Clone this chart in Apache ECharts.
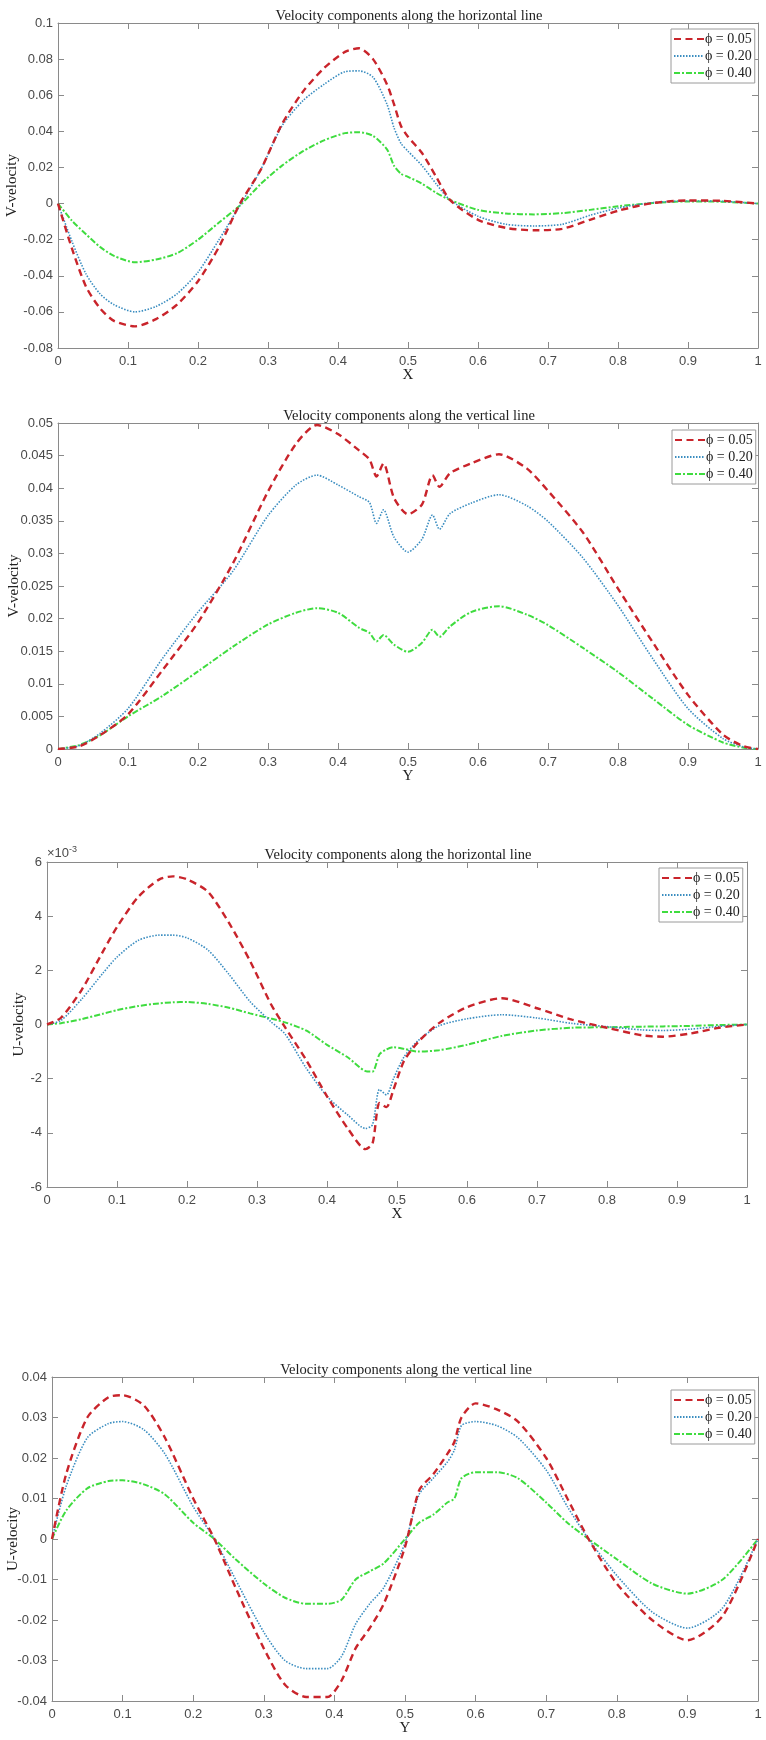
<!DOCTYPE html>
<html><head><meta charset="utf-8">
<script src="https://cdn.jsdelivr.net/npm/echarts@6/dist/echarts.min.js"></script>
<style>html,body{margin:0;padding:0;background:#fff}#c{width:766px;height:1740px}</style>
</head><body><div id="c"></div><script>
// ---------- DATA ----------
const seriesNames = ['ϕ = 0.05', 'ϕ = 0.20', 'ϕ = 0.40'];
const titles = ['Velocity components along the horizontal line', 'Velocity components along the vertical line',
  'Velocity components along the horizontal line', 'Velocity components along the vertical line'];
const xNames = ['X', 'Y', 'X', 'Y'];
const yNames = ['V-velocity', 'V-velocity', 'U-velocity', 'U-velocity'];

// Panel 1: V-velocity along horizontal line
const p1_x = [0,0.02,0.04,0.06,0.08,0.11,0.14,0.17,0.2,0.23,0.26,0.29,0.32,0.35,0.38,0.41,0.43,0.45,0.47,0.48,0.49,0.5,0.52,0.54,0.56,0.6,0.64,0.68,0.72,0.76,0.8,0.85,0.9,0.95,1];
const p1_red   = [0,-0.025,-0.046,-0.058,-0.065,-0.068,-0.064,-0.056,-0.043,-0.024,0,0.019,0.044,0.062,0.075,0.084,0.086,0.080,0.066,0.055,0.043,0.037,0.028,0.015,0.002,-0.009,-0.0135,-0.0148,-0.014,-0.009,-0.004,0.0003,0.0017,0.0015,0];
const p1_blue  = [0,-0.021,-0.039,-0.05,-0.056,-0.06,-0.057,-0.05,-0.038,-0.02,-0.001,0.019,0.043,0.057,0.066,0.073,0.0735,0.070,0.055,0.042,0.0333,0.029,0.021,0.011,0.002,-0.007,-0.0115,-0.0124,-0.0115,-0.0065,-0.0025,0.0005,0.0014,0.0012,0];
const p1_green = [0,-0.0095,-0.017,-0.024,-0.029,-0.0325,-0.031,-0.0275,-0.02,-0.0105,-0.001,0.011,0.021,0.029,0.035,0.039,0.0395,0.0375,0.030,0.021,0.0165,0.0148,0.011,0.006,0.002,-0.0035,-0.0055,-0.006,-0.0053,-0.0035,-0.0015,0.0003,0.0012,0.001,0];

// Panel 2: V-velocity along vertical line
const p2_x = [0,0.03,0.06,0.1,0.15,0.2,0.25,0.3,0.34,0.37,0.4,0.43,0.445,0.455,0.465,0.48,0.5,0.52,0.535,0.545,0.56,0.59,0.63,0.67,0.7,0.75,0.8,0.85,0.9,0.95,0.98,1];
const p2_red   = [0,0.0004,0.0021,0.0053,0.0122,0.0194,0.0285,0.0395,0.0468,0.0497,0.0483,0.0458,0.0444,0.0418,0.0438,0.0385,0.036,0.0375,0.042,0.0402,0.0423,0.0438,0.0452,0.043,0.0396,0.0332,0.0246,0.0163,0.0083,0.0022,0.0004,0];
const p2_blue  = [0,0.0005,0.0024,0.0062,0.014,0.021,0.0273,0.0358,0.0405,0.042,0.0405,0.0387,0.0378,0.0346,0.0367,0.0325,0.0302,0.0322,0.0359,0.0337,0.0361,0.0377,0.039,0.0373,0.0349,0.0293,0.022,0.0138,0.0062,0.0016,0.0003,0];
const p2_green = [0,0.0006,0.0021,0.005,0.0082,0.0119,0.0157,0.0191,0.0209,0.0216,0.0209,0.0186,0.0178,0.0165,0.0175,0.016,0.0149,0.0163,0.0183,0.0172,0.0188,0.021,0.0219,0.0206,0.019,0.0155,0.0118,0.0077,0.0037,0.001,0.0002,0];

// Panel 3: U-velocity along horizontal line (values in units of 10^-3)
const p3_x = [0,0.02,0.05,0.08,0.1,0.13,0.16,0.18,0.2,0.23,0.26,0.29,0.32,0.34,0.37,0.4,0.43,0.455,0.465,0.475,0.485,0.495,0.51,0.53,0.56,0.6,0.65,0.7,0.75,0.8,0.85,0.88,0.92,0.96,1];
const p3_red   = [0,0.25,1.3,2.7,3.6,4.7,5.35,5.47,5.36,4.9,3.75,2.35,0.75,-0.1,-1.3,-2.65,-3.85,-4.6,-4.4,-2.9,-3.05,-2.4,-1.35,-0.65,0.05,0.64,0.97,0.6,0.18,-0.12,-0.4,-0.45,-0.33,-0.12,0];
const p3_blue  = [0,0.15,0.95,1.9,2.49,3.1,3.3,3.3,3.2,2.75,1.85,0.85,0.1,-0.35,-1.6,-2.65,-3.35,-3.84,-3.7,-2.4,-2.6,-2.0,-1.2,-0.6,-0.05,0.21,0.36,0.24,0.04,-0.08,-0.2,-0.22,-0.17,-0.07,0];
const p3_green = [0,0.05,0.2,0.4,0.53,0.68,0.78,0.82,0.83,0.76,0.62,0.41,0.22,0.08,-0.22,-0.75,-1.22,-1.72,-1.74,-1.1,-0.92,-0.84,-0.9,-1.0,-0.95,-0.75,-0.42,-0.22,-0.12,-0.1,-0.08,-0.07,-0.05,-0.02,0];

// Panel 4: U-velocity along vertical line
const p4_x = [0,0.02,0.05,0.08,0.1,0.13,0.16,0.2,0.23,0.26,0.3,0.33,0.36,0.39,0.41,0.43,0.45,0.47,0.5,0.52,0.54,0.56,0.57,0.58,0.6,0.63,0.66,0.7,0.73,0.76,0.8,0.85,0.9,0.95,1];
const p4_red   = [0,0.016,0.03,0.035,0.0355,0.033,0.025,0.01,0,-0.012,-0.027,-0.036,-0.039,-0.039,-0.035,-0.027,-0.022,-0.016,-0.002,0.012,0.016,0.021,0.024,0.03,0.0335,0.032,0.029,0.02,0.01,0,-0.011,-0.02,-0.025,-0.019,0];
const p4_blue  = [0,0.013,0.025,0.0285,0.029,0.027,0.021,0.008,0,-0.01,-0.023,-0.03,-0.032,-0.032,-0.029,-0.021,-0.016,-0.012,-0.001,0.011,0.015,0.019,0.022,0.028,0.029,0.028,0.025,0.017,0.008,0,-0.009,-0.018,-0.022,-0.017,0];
const p4_green = [0,0.007,0.0125,0.0143,0.0145,0.0135,0.011,0.004,0,-0.005,-0.011,-0.0145,-0.016,-0.016,-0.015,-0.01,-0.008,-0.006,0,0.004,0.006,0.009,0.01,0.015,0.0165,0.0165,0.015,0.009,0.004,0,-0.005,-0.011,-0.0135,-0.01,0];

const xTicks = {min: 0, max: 1, interval: 0.1};
const yTicks = [
  {min: -0.08, max: 0.1, interval: 0.02},
  {min: 0, max: 0.05, interval: 0.005},
  {min: -6, max: 6, interval: 2},
  {min: -0.04, max: 0.04, interval: 0.01}
];
const panels = [
  {x: p1_x, ys: [p1_red, p1_blue, p1_green]},
  {x: p2_x, ys: [p2_red, p2_blue, p2_green]},
  {x: p3_x, ys: [p3_red, p3_blue, p3_green]},
  {x: p4_x, ys: [p4_red, p4_blue, p4_green]}
];

// ---------- LAYOUT / STYLE ----------
const layout = [
  {left: 58, top: 23, width: 700, height: 325, legend: [671, 29], yGap: 38},
  {left: 58, top: 423, width: 700, height: 326, legend: [672, 430], yGap: 36},
  {left: 47, top: 862, width: 700, height: 325, legend: [659, 868], yGap: 20},
  {left: 52, top: 1377, width: 706, height: 324, legend: [671, 1390], yGap: 31}
];
const colors = ['#c9242b', '#3a8dc0', '#3fdc3f'];
const lineTypes = [[7, 4.5], [1.5, 1.5], [6, 2, 2, 2]];
const widths = [2.4, 1.6, 2];
const axisColor = '#8a8a8a';
const labelColor = '#4a4a4a';
const serif = '"Liberation Serif", "DejaVu Serif", serif';
const sans = '"Liberation Sans", Arial, sans-serif';

const option = {
  animation: false,
  backgroundColor: '#fff',
  title: [], grid: [], xAxis: [], yAxis: [], legend: [], series: [],
  graphic: [{
    type: 'text', left: 47, top: 845,
    style: {text: '{a|×10}{b|-3}', rich: {a: {fontSize: 13, fontFamily: sans, fill: labelColor}, b: {fontSize: 9, fontFamily: sans, fill: labelColor, padding: [0, 0, 7, 0]}}}
  }]
};

function tickFmt(v) {
  const r = Math.round(v * 100000) / 100000;
  return String(r);
}

layout.forEach((L, i) => {
  option.title.push({
    text: titles[i], left: L.left + L.width / 2 - 4, top: L.top - 19, textAlign: 'center',
    textStyle: {fontFamily: serif, fontSize: 14.5, fontWeight: 'normal', color: '#222'}
  });
  option.grid.push({left: L.left, top: L.top, width: L.width, height: L.height, containLabel: false, outerBoundsMode: 'none'});
  const base = {
    gridIndex: i, type: 'value',
    axisLine: {show: true, onZero: false, lineStyle: {color: axisColor, width: 1}},
    axisTick: {show: true, inside: true, length: 6, lineStyle: {color: axisColor}},
    splitLine: {show: false}
  };
  option.xAxis.push(Object.assign({}, base, xTicks, {
    position: 'bottom', name: xNames[i], nameLocation: 'middle', nameGap: 20, nameMoveOverlap: false,
    nameTextStyle: {fontFamily: serif, fontSize: 15, color: '#222'},
    axisLabel: {margin: 7, fontFamily: sans, fontSize: 13, color: labelColor, formatter: tickFmt}
  }));
  option.xAxis.push(Object.assign({}, base, xTicks, {position: 'top', axisLabel: {show: false}}));
  option.yAxis.push(Object.assign({}, base, yTicks[i], {
    position: 'left', name: yNames[i], nameLocation: 'middle', nameGap: L.yGap, nameRotate: 90, nameMoveOverlap: false,
    nameTextStyle: {fontFamily: serif, fontSize: 15, color: '#222'},
    axisLabel: {margin: 5, fontFamily: sans, fontSize: 13, color: labelColor, formatter: tickFmt}
  }));
  option.yAxis.push(Object.assign({}, base, yTicks[i], {position: 'right', axisLabel: {show: false}}));
  option.legend.push({
    left: L.legend[0], top: L.legend[1], orient: 'vertical',
    data: seriesNames, itemWidth: 30, itemHeight: 12, itemGap: 3,
    itemStyle: {opacity: 0},
    padding: [3, 3, 3, 2], backgroundColor: '#fff', borderColor: '#9a9a9a', borderWidth: 1, borderRadius: 0,
    textStyle: {fontFamily: serif, fontSize: 14, color: '#222', padding: [0, 0, 0, -4]},
    selectedMode: false
  });
  panels[i].ys.forEach((ys, k) => {
    option.series.push({
      name: seriesNames[k], type: 'line', xAxisIndex: 2 * i, yAxisIndex: 2 * i,
      data: panels[i].x.map((xv, j) => [xv, ys[j]]),
      showSymbol: false, symbol: 'none', smooth: 0.25, z: 3 - k,
      lineStyle: {color: colors[k], width: widths[k], type: lineTypes[k]},
      itemStyle: {color: colors[k]}
    });
  });
});

const chart = echarts.init(document.getElementById('c'), null, {renderer: 'canvas', width: 766, height: 1740});
chart.setOption(option);
</script></body></html>
